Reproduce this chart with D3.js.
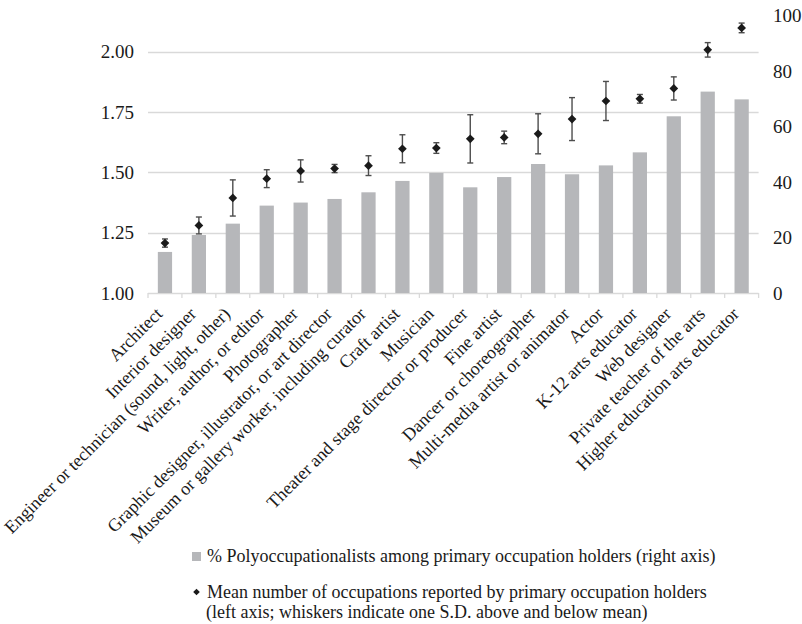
<!DOCTYPE html>
<html>
<head>
<meta charset="utf-8">
<script src="https://cdn.jsdelivr.net/npm/d3@7"></script>
<style>
  body { margin: 0; background: #fff; }
</style>
</head>
<body>
<div id="chart"></div>
<script>
// occupations, sorted by mean number of occupations
var occupations = [
  "Architect", "Interior designer", "Engineer or technician (sound, light, other)",
  "Writer, author, or editor", "Photographer",
  "Graphic designer, illustrator, or art director",
  "Museum or gallery worker, including curator", "Craft artist", "Musician",
  "Theater and stage director or producer", "Fine artist", "Dancer or choreographer",
  "Multi-media artist or animator", "Actor", "K-12 arts educator", "Web designer",
  "Private teacher of the arts", "Higher education arts educator"
];
// % polyoccupationalists (right axis)
var pctPoly = [14.8, 20.9, 25.0, 31.5, 32.6, 33.9, 36.3, 40.4, 43.3, 38.1, 41.8, 46.5, 42.8, 46.0, 50.7, 63.7, 72.6, 69.8];
// mean number of occupations (left axis)
var meanOcc = [1.207, 1.280, 1.394, 1.474, 1.506, 1.516, 1.528, 1.598, 1.601, 1.639, 1.645, 1.660, 1.721, 1.796, 1.805, 1.848, 2.008, 2.099];
// one S.D. (half whisker length)
var sdOcc = [0.017, 0.035, 0.075, 0.037, 0.046, 0.017, 0.041, 0.058, 0.022, 0.100, 0.026, 0.083, 0.089, 0.081, 0.018, 0.048, 0.030, 0.020];
var leftTicks = [1.00, 1.25, 1.50, 1.75, 2.00];
var rightTicks = [0, 20, 40, 60, 80, 100];
var legendBar = "% Polyoccupationalists among primary occupation holders (right axis)";
var legendMean = ["Mean number of occupations reported by primary occupation holders",
                  "(left axis; whiskers indicate one S.D. above and below mean)"];

var FONT = "'Liberation Serif', 'Tinos', 'DejaVu Serif', 'Times New Roman', serif";

var width = 802, height = 624;
var margin = {top: 15.6, right: 43.4, bottom: 331, left: 148};
var innerH = height - margin.top - margin.bottom;

var svg = d3.select("#chart").append("svg")
  .attr("width", width)
  .attr("height", height)
  .attr("font-family", FONT)
  .style("font-family", FONT);

var x = d3.scaleBand()
  .domain(occupations)
  .range([margin.left, width - margin.right]);

var yLeft = d3.scaleLinear()
  .domain([1.0, 2.15])
  .range([margin.top + innerH, margin.top]);

var yRight = d3.scaleLinear()
  .domain([0, 100])
  .range([margin.top + innerH, margin.top]);

// gridlines
svg.append("g")
  .selectAll("line")
  .data(leftTicks)
  .enter()
  .append("line")
    .attr("x1", x.range()[0])
    .attr("x2", x.range()[1])
    .attr("y1", function(d) { return Math.round(yLeft(d)) + 0.5; })
    .attr("y2", function(d) { return Math.round(yLeft(d)) + 0.5; })
    .style("stroke", "#d9d9d9")
    .style("stroke-width", 1.3);

// category boundary ticks on the x axis
var bounds = occupations.map(function(d) { return x(d); }).concat([x.range()[1]]);
svg.append("g")
  .selectAll("line")
  .data(bounds)
  .enter()
  .append("line")
    .attr("x1", function(d) { return d; })
    .attr("x2", function(d) { return d; })
    .attr("y1", yLeft(1.0))
    .attr("y2", yLeft(1.0) + 5)
    .style("stroke", "#d9d9d9")
    .style("stroke-width", 1.3);

// bars
var barW = x.bandwidth() * 0.42;
svg.append("g")
  .selectAll("rect")
  .data(pctPoly)
  .enter()
  .append("rect")
    .attr("x", function(d, i) { return x(occupations[i]) + (x.bandwidth() - barW) / 2; })
    .attr("width", barW)
    .attr("y", function(d) { return yRight(d); })
    .attr("height", function(d) { return yRight(0) - yRight(d); })
    .style("fill", "#b6b7ba");

// whiskers
var cx = function(i) { return x(occupations[i]) + x.bandwidth() / 2; };
var whisk = svg.append("g").style("stroke", "#4d4d4d").style("stroke-width", 1.4);
meanOcc.forEach(function(m, i) {
  var top = yLeft(m + sdOcc[i]), bot = yLeft(m - sdOcc[i]);
  whisk.append("line").attr("x1", cx(i)).attr("x2", cx(i)).attr("y1", top).attr("y2", bot);
  whisk.append("line").attr("x1", cx(i) - 3).attr("x2", cx(i) + 3).attr("y1", top).attr("y2", top);
  whisk.append("line").attr("x1", cx(i) - 3).attr("x2", cx(i) + 3).attr("y1", bot).attr("y2", bot);
});

// diamonds
var diamond = d3.symbol().type(d3.symbolSquare).size(38);
svg.append("g")
  .selectAll("path")
  .data(meanOcc)
  .enter()
  .append("path")
    .attr("d", diamond)
    .attr("transform", function(d, i) { return "translate(" + cx(i) + "," + yLeft(d) + ") rotate(45)"; })
    .style("fill", "#1a1a1a");

// left axis labels
svg.append("g")
  .selectAll("text")
  .data(leftTicks)
  .enter()
  .append("text")
    .attr("x", 134)
    .attr("y", function(d) { return yLeft(d); })
    .attr("dy", "0.35em")
    .style("text-anchor", "end")
    .style("font-size", "19px")
    .style("fill", "#1a1a1a")
    .text(function(d) { return d3.format(".2f")(d); });

// right axis labels
svg.append("g")
  .selectAll("text")
  .data(rightTicks)
  .enter()
  .append("text")
    .attr("x", 773)
    .attr("y", function(d) { return yRight(d); })
    .attr("dy", "0.35em")
    .style("text-anchor", "start")
    .style("font-size", "19px")
    .style("fill", "#1a1a1a")
    .text(function(d) { return d; });

// rotated category labels
svg.append("g")
  .selectAll("text")
  .data(occupations)
  .enter()
  .append("text")
    .attr("transform", function(d) {
      return "translate(" + (x(d) + x.bandwidth() / 2 - 6) + "," + 310.5 + ") rotate(-45)";
    })
    .attr("dy", "0.35em")
    .style("text-anchor", "end")
    .style("font-size", "18px")
    .style("fill", "#1a1a1a")
    .text(function(d) { return d; });

// legend
var legend = svg.append("g");
legend.append("rect")
  .attr("x", 192).attr("y", 552).attr("width", 9).attr("height", 9)
  .style("fill", "#b6b7ba");
legend.append("text")
  .attr("x", 207).attr("y", 562)
  .style("font-size", "18px")
  .style("fill", "#1a1a1a")
  .text(legendBar);
legend.append("path")
  .attr("d", d3.symbol().type(d3.symbolSquare).size(22))
  .attr("transform", "translate(196.5,592) rotate(45)")
  .style("fill", "#1a1a1a");
legend.append("text")
  .attr("y", 598)
  .style("font-size", "18px")
  .style("fill", "#1a1a1a")
  .selectAll("tspan")
  .data(legendMean)
  .enter()
  .append("tspan")
    .attr("x", function(d, i) { return i === 0 ? 207 : 206; })
    .attr("dy", function(d, i) { return i === 0 ? 0 : 20; })
    .text(function(d) { return d; });
</script>
</body>
</html>
